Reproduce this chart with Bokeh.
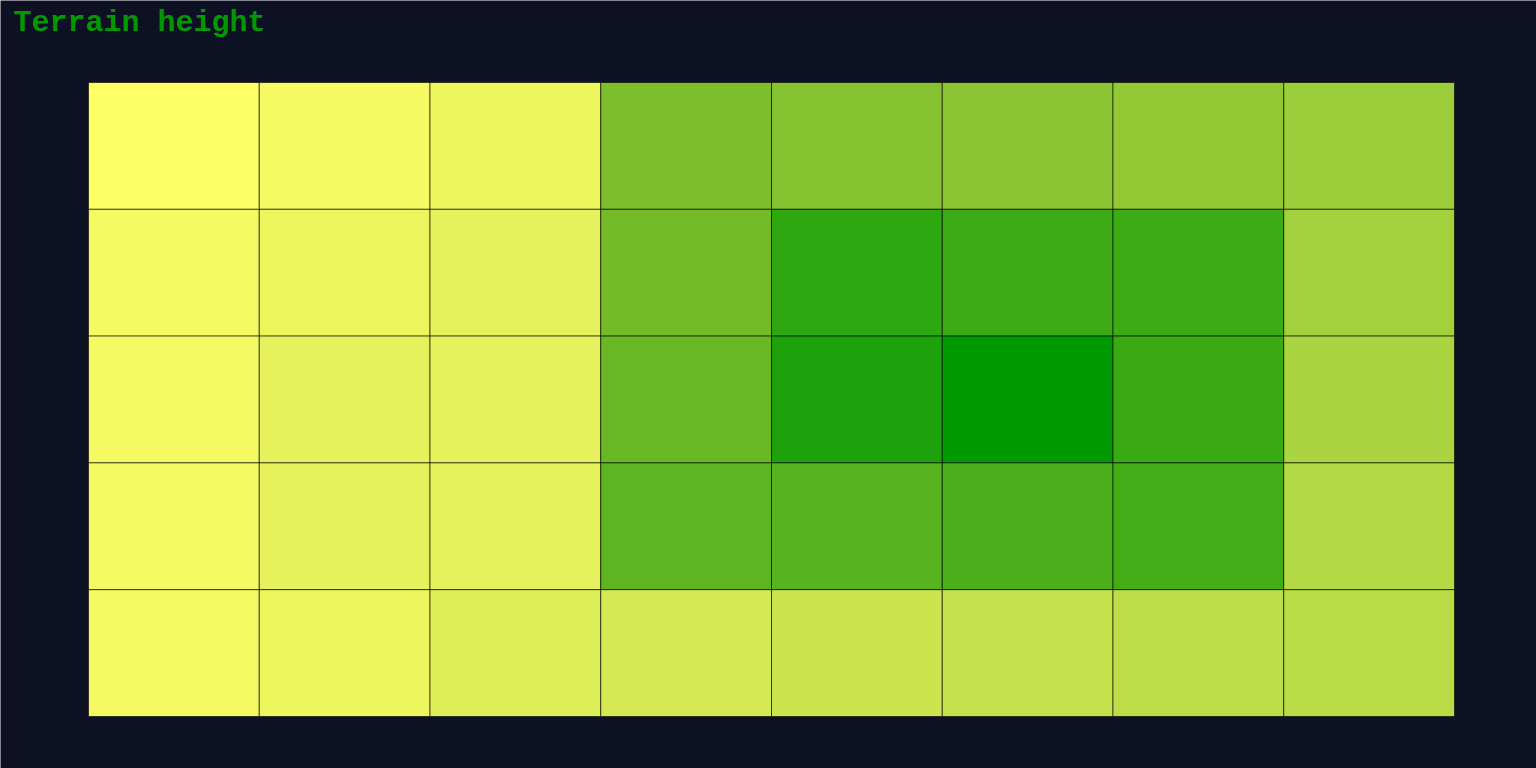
import numpy as np
from bokeh.plotting import figure
from bokeh.models import ColumnDataSource, LinearColorMapper, Range1d, Label
from bokeh.transform import transform
from bokeh.embed import file_html
from bokeh.resources import INLINE

# Terrain heights (rows top to bottom, columns left to right)
row_0 = [0, 4, 7, 51, 48, 45, 42, 39]
row_1 = [4, 7, 10, 55, 82, 76, 76, 36]
row_2 = [4, 10, 10, 59, 88, 100, 77, 33]
row_3 = [4, 10, 10, 63, 66, 71, 74, 30]
row_4 = [4, 7, 13, 17, 20, 23, 26, 28]
rows = [row_0, row_1, row_2, row_3, row_4]
title_text = "Terrain height"

n_cols = len(row_0)
n_rows = len(rows)

xs, ys, vals = [], [], []
for r, row in enumerate(rows):
    for c, v in enumerate(row):
        xs.append(c + 0.5)
        ys.append(n_rows - r - 0.5)
        vals.append(v)

src = ColumnDataSource(dict(x=xs, y=ys, v=vals))

# palette: yellow -> yellow-green -> green
stops = [(0.0, (255, 255, 102)), (0.5, (128, 191, 45)), (1.0, (0, 153, 0))]
palette = []
for i in range(256):
    t = i / 255
    for (t0, c0), (t1, c1) in zip(stops[:-1], stops[1:]):
        if t0 <= t <= t1:
            f = (t - t0) / (t1 - t0)
            col = tuple(int(round(a + (b - a) * f)) for a, b in zip(c0, c1))
            break
    palette.append("#%02x%02x%02x" % col)

mapper = LinearColorMapper(palette=palette, low=0, high=100)

# layout in pixels
W, H = 1536, 768
m_left, m_right, m_top, m_bottom = 88, 82, 82, 52
px_x = (W - m_left - m_right) / n_cols
px_y = (H - m_top - m_bottom) / n_rows

bg = "#0e1024"
p = figure(width=W, height=H, frame_width=W, frame_height=H,
           x_range=Range1d(-m_left / px_x, n_cols + m_right / px_x),
           y_range=Range1d(-m_bottom / px_y, n_rows + m_top / px_y),
           output_backend="svg", toolbar_location=None,
           min_border=0, min_border_left=0, min_border_right=0,
           min_border_top=0, min_border_bottom=0,
           background_fill_color=bg, border_fill_color=bg)
p.outline_line_color = None
p.axis.visible = False
p.grid.visible = False

p.rect(x="x", y="y", width=1, height=1, source=src,
       fill_color=transform("v", mapper), line_color="black", line_alpha=0.6, line_width=1)

lbl = Label(x=13, y=H - 22, x_units="screen", y_units="screen",
            text=title_text, text_font="'Courier New', Courier, 'Nimbus Mono PS', FreeMono, 'Liberation Mono', monospace",
            text_font_style="bold", text_font_size="30px", text_color="#009900",
            text_baseline="alphabetic", text_align="left")
p.add_layout(lbl)

open("out.html", "w").write(file_html(p, INLINE))
